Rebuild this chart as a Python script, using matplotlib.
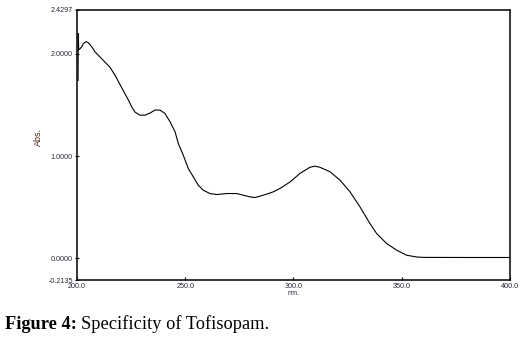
import matplotlib.pyplot as plt

# UV spectrum of tofisopam (absorbance vs wavelength)
wavelength_nm = [
    200.5, 200.6, 200.8, 201.4, 202.2, 202.9, 204.2, 205.2, 206.8, 208.3,
    210.6, 212.9, 215.2, 217.6, 219.1, 221.4, 223.7, 225.3, 226.8, 229.1,
    231.4, 233.7, 236.0, 238.3, 240.6, 243.0, 245.3, 246.8, 249.1, 251.4,
    253.7, 256.0, 258.3, 261.4, 264.5, 269.1, 273.7, 276.8, 279.9, 282.2,
    284.5, 287.6, 290.7, 293.8, 298.4, 303.0, 307.6, 309.9, 312.2, 316.9,
    321.5, 326.1, 330.7, 335.3, 338.4, 343.0, 347.7, 352.3, 356.9, 360.0,
    380.0, 400.0,
]
absorbance = [
    1.74, 2.20, 2.04, 2.05, 2.07, 2.10, 2.12, 2.11, 2.07, 2.02,
    1.97, 1.92, 1.87, 1.79, 1.73, 1.64, 1.55, 1.48, 1.43, 1.40,
    1.40, 1.42, 1.45, 1.45, 1.417, 1.335, 1.237, 1.123, 1.008, 0.879,
    0.797, 0.715, 0.666, 0.633, 0.623, 0.633, 0.633, 0.617, 0.600, 0.594,
    0.607, 0.627, 0.650, 0.683, 0.746, 0.830, 0.890, 0.901, 0.890, 0.846,
    0.764, 0.650, 0.503, 0.340, 0.242, 0.144, 0.078, 0.029, 0.012, 0.008,
    0.007, 0.007,
]

x_ticks = [200.0, 250.0, 300.0, 350.0, 400.0]
y_ticks = [-0.2135, 0.0, 1.0, 2.0, 2.4297]

TICK_FONT = "Liberation Sans"
TICK_SIZE = 5.2
TICK_COLOR = "#2a2a3a"

fig = plt.figure(figsize=(5.23, 3.44), dpi=100)
ax = fig.add_axes([0.1472, 0.186, 0.8279, 0.785])

ax.plot(wavelength_nm, absorbance, color="black", linewidth=0.8)

ax.set_xlim(x_ticks[0], x_ticks[-1])
ax.set_ylim(y_ticks[0], y_ticks[-1])
ax.set_xticks(x_ticks)
ax.set_yticks(y_ticks)
ax.set_xticklabels([f"{t:.1f}" for t in x_ticks], fontsize=TICK_SIZE,
                   family=TICK_FONT, color=TICK_COLOR)
ax.set_yticklabels([f"{t:.4f}" for t in y_ticks], fontsize=TICK_SIZE,
                   family=TICK_FONT, color=TICK_COLOR)
ax.tick_params(axis="x", direction="in", length=2.5, width=0.8, pad=2)
ax.tick_params(axis="y", direction="inout", length=3, width=0.8, pad=1.5)

for spine in ax.spines.values():
    spine.set_linewidth(1.1)
    spine.set_color("black")

ax.set_xlabel("nm.", fontsize=TICK_SIZE, family=TICK_FONT, color=TICK_COLOR,
              labelpad=0)
fig.text(38 / 523, 1 - 137 / 344, "Abs.", rotation=90, ha="center", va="center",
         fontsize=6.5, family=TICK_FONT, color="#4a2418")

# caption under the plot
cap = fig.text(5 / 523, 1 - 329 / 344, "Figure 4:", fontsize=13.2,
               family="Liberation Serif", weight="bold", color="black",
               va="baseline")
fig.canvas.draw()
bb = cap.get_window_extent()
fig.text((bb.x1 + 4) / (523), 1 - 329 / 344, "Specificity of Tofisopam.",
         fontsize=13.2, family="Liberation Serif", color="black", va="baseline")

fig.savefig("out.png", dpi=100)
